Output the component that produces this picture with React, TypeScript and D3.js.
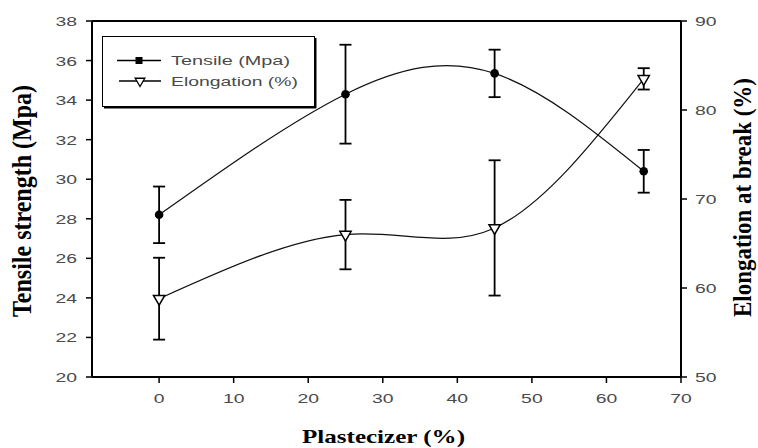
import React from 'react';
import * as d3 from 'd3';

// plasticizer content (%) and measured properties
const plasticizer = [0, 25, 45, 65];
const tensile = [28.2, 34.3, 35.35, 30.4];
const tensileErr = [1.43, 2.5, 1.2, 1.08];
const elongation = [58.8, 66.0, 66.75, 83.5];
const elongationErr = [4.6, 3.9, 7.6, 1.2];

const xTicks = [0, 10, 20, 30, 40, 50, 60, 70];
const leftTicks = [20, 22, 24, 26, 28, 30, 32, 34, 36, 38];
const rightTicks = [50, 60, 70, 80, 90];

const legendItems = ['Tensile (Mpa)', 'Elongation (%)'];

const W = 758;
const H = 448;
const margin = { top: 21, right: 77, bottom: 71, left: 92 };

const App = () => {
  const x = d3.scaleLinear().domain([-9, 70]).range([margin.left, W - margin.right]);
  const yL = d3.scaleLinear().domain([20, 38]).range([H - margin.bottom, margin.top]);
  const yR = d3.scaleLinear().domain([50, 90]).range([H - margin.bottom, margin.top]);

  const x0 = margin.left;
  const x1 = W - margin.right;
  const y0 = H - margin.bottom;
  const y1 = margin.top;

  const line = d3.line<[number, number]>().curve(d3.curveNatural);
  const tPts: [number, number][] = plasticizer.map((p, i) => [x(p), yL(tensile[i])]);
  const ePts: [number, number][] = plasticizer.map((p, i) => [x(p), yR(elongation[i])]);

  const tri = d3.symbol().type(d3.symbolTriangle).size(55)();
  const labelColor = '#4a4a4a';
  const sx = 1.55; // tick labels are drawn wide in the original

  return (
    <svg width={W} height={H} style={{ position: 'absolute', left: 0, top: 0, background: '#fff' }}>
      {/* frame */}
      <g stroke="#000" strokeWidth={2} fill="none">
        <line x1={x0} x2={x1} y1={y1} y2={y1} />
        <line x1={x0} x2={x1} y1={y0} y2={y0} />
        <line x1={x0} x2={x0} y1={y1} y2={y0} />
        <line x1={x1} x2={x1} y1={y1} y2={y0} />
      </g>

      {/* bottom axis */}
      {xTicks.map(t => (
        <g key={'x' + t}>
          <line x1={x(t)} x2={x(t)} y1={y0} y2={y0 + 6} stroke="#000" strokeWidth={1.5} />
          <text transform={`translate(${x(t)},403) scale(${sx},1)`} textAnchor="middle"
            fontFamily="Liberation Sans, Arial" fontSize={12.5} fill={labelColor}>{t}</text>
        </g>
      ))}

      {/* left axis */}
      {leftTicks.map(t => (
        <g key={'l' + t}>
          <line x1={x0 - 6} x2={x0} y1={yL(t)} y2={yL(t)} stroke="#000" strokeWidth={1.5} />
          <text transform={`translate(77,${yL(t) + 5}) scale(${sx},1)`} textAnchor="end"
            fontFamily="Liberation Sans, Arial" fontSize={12.5} fill={labelColor}>{t}</text>
        </g>
      ))}

      {/* right axis */}
      {rightTicks.map(t => (
        <g key={'r' + t}>
          <line x1={x1} x2={x1 + 6} y1={yR(t)} y2={yR(t)} stroke="#000" strokeWidth={1.5} />
          <text transform={`translate(695,${yR(t) + 5}) scale(${sx},1)`} textAnchor="start"
            fontFamily="Liberation Sans, Arial" fontSize={12.5} fill={labelColor}>{t}</text>
        </g>
      ))}

      {/* axis titles */}
      <text transform="translate(31,201) rotate(-90)" textAnchor="middle" fontFamily="Liberation Serif, Times New Roman"
        fontWeight="bold" fontSize={27} textLength={232} lengthAdjust="spacingAndGlyphs" fill="#000">
        Tensile strength (Mpa)
      </text>
      <text transform="translate(751,197.5) rotate(-90)" textAnchor="middle" fontFamily="Liberation Serif, Times New Roman"
        fontWeight="bold" fontSize={25} textLength={239} lengthAdjust="spacingAndGlyphs" fill="#000">
        Elongation at break (%)
      </text>
      <text x={383.5} y={443} textAnchor="middle" fontFamily="Liberation Serif, Times New Roman"
        fontWeight="bold" fontSize={19} textLength={163} lengthAdjust="spacingAndGlyphs" fill="#000">
        Plastecizer (%)
      </text>

      {/* curves */}
      <path d={line(tPts) || ''} fill="none" stroke="#111" strokeWidth={1.2} />
      <path d={line(ePts) || ''} fill="none" stroke="#111" strokeWidth={1.2} />

      {/* error bars */}
      <g stroke="#000" strokeWidth={1.8}>
        {plasticizer.map((p, i) => {
          const cx = x(p);
          const a = yL(tensile[i] + tensileErr[i]);
          const b = yL(tensile[i] - tensileErr[i]);
          const c = yR(elongation[i] + elongationErr[i]);
          const d = yR(elongation[i] - elongationErr[i]);
          return (
            <g key={'e' + p}>
              <line x1={cx} x2={cx} y1={a} y2={b} />
              <line x1={cx - 6} x2={cx + 6} y1={a} y2={a} />
              <line x1={cx - 6} x2={cx + 6} y1={b} y2={b} />
              <line x1={cx} x2={cx} y1={c} y2={d} />
              <line x1={cx - 6} x2={cx + 6} y1={c} y2={c} />
              <line x1={cx - 6} x2={cx + 6} y1={d} y2={d} />
            </g>
          );
        })}
      </g>

      {/* markers */}
      {tPts.map(([px, py], i) => (
        <circle key={'t' + i} cx={px} cy={py} r={4.3} fill="#000" />
      ))}
      {ePts.map(([px, py], i) => (
        <path key={'v' + i} d={tri || ''} transform={`translate(${px},${py}) rotate(180)`}
          fill="#fff" stroke="#000" strokeWidth={1.5} />
      ))}

      {/* legend */}
      <g>
        <rect x={103} y={37} width={212} height={70} fill="#fff" stroke="none" />
        <line x1={104} x2={316} y1={107.5} y2={107.5} stroke="#000" strokeWidth={2} />
        <line x1={315.5} x2={315.5} y1={38} y2={108} stroke="#000" strokeWidth={2} />
        <rect x={102.5} y={36.5} width={212} height={70} fill="none" stroke="#000" strokeWidth={1} />
        <line x1={117} x2={161} y1={60.5} y2={60.5} stroke="#000" strokeWidth={1.5} />
        <rect x={135.5} y={57} width={7} height={7} fill="#000" />
        <line x1={119} x2={161} y1={81} y2={81} stroke="#000" strokeWidth={1.5} />
        <path d={d3.symbol().type(d3.symbolTriangle).size(40)() || ''} transform="translate(140,81) rotate(180)"
          fill="#fff" stroke="#000" strokeWidth={1.3} />
        <text x={171} y={65} fontFamily="Liberation Sans, Arial" fontSize={13} fill={labelColor}
          textLength={119} lengthAdjust="spacingAndGlyphs">{legendItems[0]}</text>
        <text x={171} y={86} fontFamily="Liberation Sans, Arial" fontSize={13} fill={labelColor}
          textLength={127} lengthAdjust="spacingAndGlyphs">{legendItems[1]}</text>
      </g>
    </svg>
  );
};

export default App;
